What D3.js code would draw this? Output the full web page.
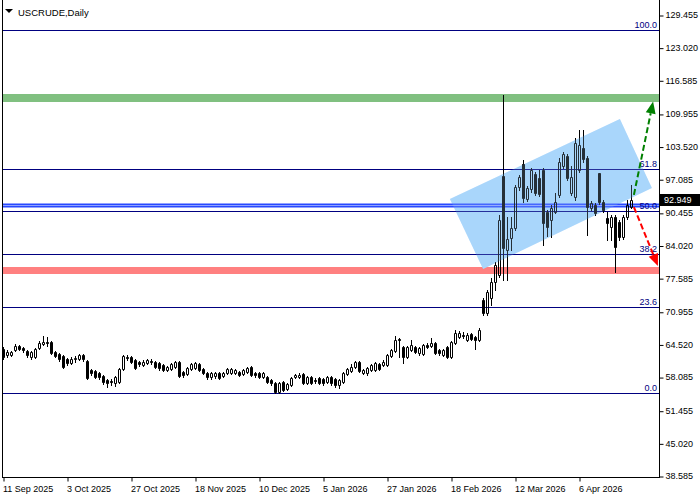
<!DOCTYPE html>
<html>
<head>
<meta charset="utf-8">
<script src="https://cdn.jsdelivr.net/npm/d3@7"></script>
<style>
html,body{margin:0;padding:0;background:#fff;}
svg{display:block;font-family:"Liberation Sans",Arial,sans-serif;}
</style>
</head>
<body>
<svg id="chart" width="700" height="500"></svg>
<script>
// ---------------- DATA ----------------
const symbolTitle = "USCRUDE,Daily";
const dateTickBars = [0, 16, 32, 48, 64, 80, 96, 112, 128, 144];
const dateTickLabels = ["11 Sep 2025","3 Oct 2025","27 Oct 2025","18 Nov 2025","10 Dec 2025","5 Jan 2026","27 Jan 2026","18 Feb 2026","12 Mar 2026","6 Apr 2026"];
const priceTicks = [129.455,123.020,116.585,109.955,103.520,97.085,90.455,84.020,77.585,70.955,64.520,58.085,51.455,45.020,38.585];

const opens = [63.62,62.44,62.44,63.42,64.21,63.82,63.23,62.05,62.05,63.82,
64.61,65.00,65.00,63.03,62.64,62.24,61.65,60.86,61.65,61.65,
62.44,61.26,59.49,59.29,58.89,58.30,57.52,57.32,56.92,57.12,
59.68,62.05,62.05,61.45,61.06,60.47,60.86,61.26,61.06,60.86,
60.47,59.49,59.68,60.08,61.06,59.09,58.70,59.68,59.88,60.67,
59.68,58.89,58.11,58.30,58.89,58.30,58.89,58.89,58.89,59.09,
58.70,59.09,60.08,58.89,58.89,58.11,58.11,57.52,56.92,55.15,
57.12,55.74,56.53,58.11,58.11,58.70,56.92,58.11,57.52,57.91,
57.71,57.12,58.11,57.71,56.53,57.12,58.70,59.29,60.08,61.06,
58.89,58.89,59.49,59.49,60.67,60.47,60.47,62.24,63.23,65.59,
64.02,62.05,63.42,64.02,62.83,62.64,64.41,64.21,64.80,63.42,
62.44,64.02,62.05,64.80,65.98,66.38,65.39,66.58,65.98,65.39,
73.28,70.72,73.67,76.83,78.21,97.72,83.13,85.50,87.47,95.55,
100.09,93.19,95.16,98.11,97.33,98.90,90.62,89.05,90.62,93.97,
99.69,101.66,94.37,93.58,98.90,103.24,101.27,91.42,92.01,98.31,
92.60,89.44,87.67,89.64,88.65,85.70,89.64,91.61];
const highs = [64.02,63.42,63.23,64.61,64.41,64.02,63.42,63.23,63.82,65.20,
66.18,65.98,65.20,63.23,62.83,62.44,61.85,62.05,62.24,62.64,
62.64,61.45,59.68,59.49,59.09,58.50,57.71,57.71,58.30,59.88,
62.44,62.44,62.24,61.65,61.26,61.45,61.65,61.65,61.26,61.06,
60.67,60.27,60.86,61.26,61.26,59.29,60.08,60.86,61.06,60.86,
59.88,59.09,59.09,59.09,59.09,59.09,59.88,59.88,59.68,59.29,
59.68,60.08,60.27,59.09,59.09,59.09,58.30,57.71,57.12,57.12,
57.32,56.92,58.11,58.70,58.89,58.89,58.30,58.30,57.91,58.11,
57.91,58.30,58.30,57.91,57.71,59.09,59.88,60.67,61.26,61.26,
59.68,60.08,60.67,61.06,60.86,61.45,62.64,63.62,66.18,65.79,
64.21,64.21,65.39,64.21,64.02,64.61,64.80,65.79,65.00,63.62,
63.62,64.21,65.20,67.36,67.17,66.97,66.77,66.77,66.18,67.76,
73.67,75.25,77.62,80.77,90.03,113.69,89.64,89.64,95.95,97.92,
100.87,95.75,99.30,98.51,98.90,99.30,91.02,92.01,94.37,101.27,
102.45,102.06,99.69,105.21,106.79,106.79,101.66,92.79,92.40,98.31,
92.99,90.62,90.03,90.03,89.05,90.03,92.99,95.95];
const lows = [61.65,62.05,62.24,63.23,63.42,63.03,62.05,61.65,61.85,63.62,
64.41,64.21,62.64,62.05,61.26,59.88,60.47,60.67,61.06,61.45,
61.26,57.71,58.50,57.91,57.71,56.73,56.14,56.53,56.33,56.92,
59.49,61.45,60.86,59.68,60.27,60.27,60.67,60.67,59.88,59.49,
59.29,59.29,59.49,59.88,58.11,58.11,58.50,59.49,59.68,59.29,
58.70,57.71,57.71,57.91,57.71,58.11,58.70,58.70,58.70,58.30,
58.50,58.89,58.30,58.11,57.91,57.91,56.92,56.53,54.95,54.95,
55.35,55.55,56.33,57.91,57.91,56.73,56.73,56.73,56.92,56.73,
56.53,56.92,56.53,56.14,55.94,56.92,58.50,59.09,59.88,59.09,
58.70,58.50,59.29,59.29,59.49,60.27,60.27,62.05,63.03,62.05,
60.86,61.85,63.23,62.83,62.44,62.44,63.82,64.02,62.64,62.44,
62.24,61.85,61.85,64.61,65.79,65.79,65.20,65.39,63.62,65.20,
70.32,70.32,72.29,75.25,77.81,77.22,77.22,83.13,87.08,94.96,
92.60,92.79,94.57,93.97,93.78,84.12,85.90,85.70,90.43,93.58,
99.30,96.93,93.97,92.99,98.51,100.48,86.09,91.02,90.03,92.20,
90.62,85.11,85.11,78.80,85.11,85.30,89.24,91.42];
const closes = [62.05,63.03,63.03,64.21,63.62,63.42,62.44,63.03,63.62,64.80,
65.00,64.80,62.83,62.24,61.65,60.08,60.86,61.65,61.85,62.44,
61.65,57.91,58.89,58.11,58.11,57.12,56.92,57.12,58.11,59.68,
62.24,61.85,61.06,59.88,60.67,61.06,61.45,61.06,60.08,59.88,
59.49,60.08,60.67,61.06,58.30,58.50,59.88,60.67,60.86,59.49,
58.89,58.11,58.89,58.89,57.91,58.89,59.68,59.68,59.49,58.50,
59.49,59.88,58.50,58.50,58.11,58.89,57.12,56.92,55.15,56.92,
55.55,56.73,57.91,58.50,58.50,56.92,58.11,56.92,57.32,56.92,
56.92,58.11,56.92,56.53,57.52,58.89,59.68,60.08,61.06,59.29,
59.49,59.88,60.47,60.86,59.68,61.06,62.44,63.42,65.39,65.39,
62.05,64.02,64.41,63.03,63.82,64.41,64.02,64.80,62.83,62.83,
63.42,62.05,65.00,66.77,66.77,66.18,66.38,65.59,65.39,67.36,
70.72,74.86,76.83,80.18,89.05,83.53,85.30,87.47,95.55,97.52,
93.38,95.36,98.90,94.37,94.17,88.46,87.67,91.42,92.60,100.48,
102.06,97.33,97.52,104.23,103.83,101.07,91.61,92.40,90.43,92.60,
91.02,88.46,89.64,83.73,85.70,89.64,92.01,92.949];

const lastPrice = 92.949;
const fibLevels = [0, 23.6, 38.2, 50.0, 61.8, 100.0];
const fibLowPrice = 54.95;
const fibHighPrice = 126.50;
const resistanceZone = [112.31, 113.88];
const supportZone = [78.40, 79.78];
const blueLinePrice = 92.00;
// channel corners as [bar index, price]
const channelPoints = [[111.6, 93.19], [154.1, 108.96], [162.1, 95.36], [119.9, 79.39]];
const upArrow = [[157.6, 94.0], [162.4, 112.4]];
const downArrow = [[157.6, 91.6], [163.6, 80.0]];

// ---------------- LAYOUT ----------------
const W = 700, H = 500;
const plotLeft = 2, plotRight = 659, plotTop = 0, plotBottom = 477;
const svg = d3.select("#chart");
svg.append("rect").attr("width", W).attr("height", H).attr("fill", "#fff");

const x = d3.scaleLinear().domain([0, 157]).range([3.5, 631.5]);
const y = d3.scaleLinear().domain([38.585, 129.455]).range([476, 15]);

const clipId = "plotclip";
svg.append("defs").append("clipPath").attr("id", clipId)
  .append("rect").attr("x", plotLeft).attr("y", plotTop).attr("width", plotRight - plotLeft).attr("height", plotBottom - plotTop);
const plot = svg.append("g").attr("clip-path", `url(#${clipId})`);

// zones
function zone(z, color) {
  plot.append("rect")
    .attr("x", plotLeft).attr("width", plotRight - plotLeft)
    .attr("y", Math.round(y(z[1]))).attr("height", Math.round(y(z[0])) - Math.round(y(z[1])))
    .attr("fill", color);
}
zone(resistanceZone, "#80c080");
zone(supportZone, "#ff8080");

// channel (behind)
const channelPath = "M" + channelPoints.map(p => [x(p[0]), y(p[1])].join(",")).join("L") + "Z";
plot.append("path").attr("d", channelPath).attr("fill", "#aad6fc");

// fib lines
const fibPrice = l => fibLowPrice + (fibHighPrice - fibLowPrice) * l / 100;
fibLevels.forEach(l => {
  const yy = Math.round(y(fibPrice(l))) + 0.5;
  plot.append("line").attr("x1", plotLeft).attr("x2", plotRight).attr("y1", yy).attr("y2", yy)
    .attr("stroke", "#000080").attr("stroke-width", 1);
});

// blue line
{
  const yy = Math.round(y(blueLinePrice)) + 0.5;
  plot.append("line").attr("x1", plotLeft).attr("x2", plotRight).attr("y1", yy).attr("y2", yy)
    .attr("stroke", "#2848ff").attr("stroke-width", 4);
  plot.append("line").attr("x1", plotLeft).attr("x2", plotRight).attr("y1", yy).attr("y2", yy)
    .attr("stroke", "#8ea2ff").attr("stroke-width", 1);
}

// candles
const bars = closes.map((c, i) => ({i, o: opens[i], h: highs[i], l: lows[i], c}));
const cg = plot.append("g");
bars.forEach(b => {
  const cx = Math.round(x(b.i) - 0.5) + 0.5;
  const top = Math.round(y(Math.max(b.o, b.c)));
  const bot = Math.round(y(Math.min(b.o, b.c)));
  const yh = Math.round(y(b.h)), yl = Math.round(y(b.l));
  if (yh < top) cg.append("line").attr("x1", cx).attr("x2", cx).attr("y1", yh).attr("y2", top).attr("stroke", "#000");
  if (yl > bot) cg.append("line").attr("x1", cx).attr("x2", cx).attr("y1", bot + 1).attr("y2", yl + 1).attr("stroke", "#000");
  const h = Math.max(bot - top, 0);
  cg.append("path")
    .attr("d", `M${cx - 1},${top + 0.5}h2v${h}h-2Z`)
    .attr("fill", b.c < b.o ? "#000" : "none")
    .attr("stroke", "#000").attr("stroke-width", 1);
});

// channel tint over candles
plot.append("path").attr("d", channelPath).attr("fill", "#aad6fc").attr("opacity", 0.22);

// fib labels
fibLevels.forEach(l => {
  const yy = Math.round(y(fibPrice(l)));
  svg.append("text").attr("x", 657).attr("y", yy - 2).attr("text-anchor", "end")
    .attr("font-size", "9px").attr("fill", "#000080").text(l.toFixed(1));
});

// arrows
function arrow(pts, color) {
  const x1 = x(pts[0][0]), y1 = y(pts[0][1]), x2 = x(pts[1][0]), y2 = y(pts[1][1]);
  const ang = Math.atan2(y2 - y1, x2 - x1);
  const len = 12, hw = 5;
  const bx = x2 - len * Math.cos(ang), by = y2 - len * Math.sin(ang);
  svg.append("line").attr("x1", x1).attr("y1", y1).attr("x2", bx).attr("y2", by)
    .attr("stroke", color).attr("stroke-width", 2).attr("stroke-dasharray", "6,3");
  const px = -Math.sin(ang), py = Math.cos(ang);
  svg.append("path")
    .attr("d", `M${x2},${y2}L${bx + hw * px},${by + hw * py}L${bx - hw * px},${by - hw * py}Z`)
    .attr("fill", color);
}
arrow(upArrow, "#008000");
arrow(downArrow, "#ff0000");

// frame
svg.append("line").attr("x1", plotLeft + 0.5).attr("x2", plotLeft + 0.5).attr("y1", 0).attr("y2", plotBottom + 0.5).attr("stroke", "#000");
svg.append("line").attr("x1", plotRight + 0.5).attr("x2", plotRight + 0.5).attr("y1", 0).attr("y2", plotBottom + 0.5).attr("stroke", "#000");
svg.append("line").attr("x1", plotLeft).attr("x2", plotRight + 1).attr("y1", plotBottom + 0.5).attr("y2", plotBottom + 0.5).attr("stroke", "#000");

// y axis
const yAxis = d3.axisRight(y).tickValues(priceTicks).tickFormat(d3.format(".3f")).tickSize(4).tickSizeOuter(0);
const yg = svg.append("g").attr("transform", `translate(${plotRight + 0.5},0)`).call(yAxis);
yg.select(".domain").remove();
yg.selectAll("line").attr("stroke", "#000").attr("transform", "translate(0,0.5)");
yg.selectAll("text").attr("font-size", "9px").attr("fill", "#000").attr("x", 6)
  .attr("font-family", '"Liberation Sans",Arial,sans-serif');

// x axis
const xAxis = d3.axisBottom(x).tickValues(dateTickBars)
  .tickFormat((d, i) => dateTickLabels[i]).tickSize(4).tickSizeOuter(0);
const xg = svg.append("g").attr("transform", `translate(0,${plotBottom + 0.5})`).call(xAxis);
xg.select(".domain").remove();
xg.selectAll("line").attr("stroke", "#000");
xg.selectAll("text").attr("font-size", "9px").attr("fill", "#000").attr("text-anchor", "start")
  .attr("x", -1).attr("y", 8).attr("dy", "0.71em")
  .attr("font-family", '"Liberation Sans",Arial,sans-serif');

// current price tag
{
  const yy = y(lastPrice);
  svg.append("rect").attr("x", plotRight + 1).attr("y", Math.round(yy) - 6).attr("width", 40).attr("height", 12).attr("fill", "#000");
  svg.append("text").attr("x", plotRight + 5).attr("y", yy).attr("dy", "0.35em")
    .attr("font-size", "9px").attr("fill", "#fff").text(lastPrice.toFixed(3));
}

// title
svg.append("path").attr("d", "M5,9L13,9L9,13Z").attr("fill", "#000");
svg.append("text").attr("x", 18).attr("y", 16).attr("font-size", "9.5px").attr("fill", "#000").text(symbolTitle);
</script>
</body>
</html>
